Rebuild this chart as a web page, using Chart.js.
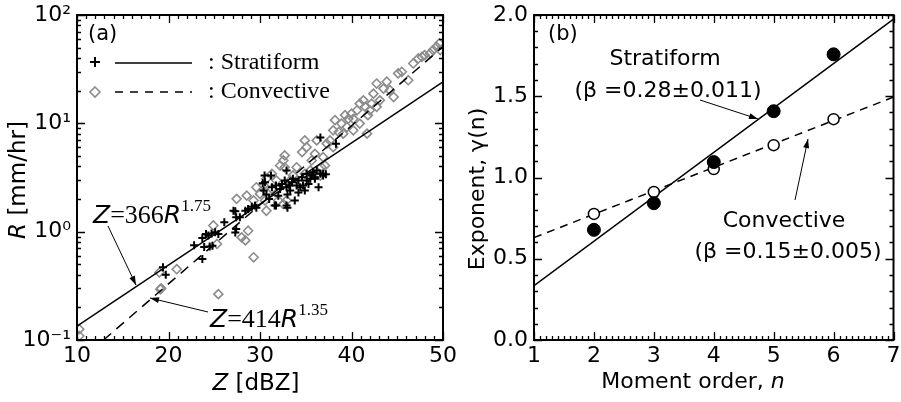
<!DOCTYPE html>
<html>
<head>
<meta charset="utf-8">
<script src="https://cdn.jsdelivr.net/npm/chart.js@4.4.1/dist/chart.umd.min.js"></script>
<style>
html, body { margin: 0; padding: 0; background: #fff; }
#wrap { position: relative; width: 901px; height: 402px; overflow: hidden; }
canvas { position: absolute; top: 0; }
#chartA { left: 0; }
#chartB { left: 450px; }
</style>
</head>
<body>
<div id="wrap">
  <canvas id="chartA" width="460" height="402"></canvas>
  <canvas id="chartB" width="451" height="402"></canvas>
</div>
<script>
// ---- panel (a): R vs Z ----
const zTicks = [10, 20, 30, 40, 50];
const rTicks = [0.1, 1, 10, 100];
const rTickLabels = ["10⁻¹", "10⁰", "10¹", "10²"];

const stratZ = [19.4, 19.7, 22.8, 23.7, 23.9, 23.7, 24.1, 24.35, 24.7, 25.1, 25.45, 24.5, 24.8, 26.1, 27.3, 27.4, 27.4, 27.8, 28.4, 28.7,
    29.1, 29.45, 29.6, 30.55, 30.4, 30.7, 31.2, 31.3, 31.75, 31.75, 32.0, 32.2, 32.4, 32.7, 32.9, 33.0, 33.2, 33.3, 33.5, 33.6,
    33.8, 34.0, 34.2, 34.4, 34.6, 34.7, 34.9, 35.1, 35.3, 35.5, 35.65, 35.8, 36.0, 36.2, 36.4, 36.6, 36.9, 37.2, 38.3, 36.6,
    32.9, 30.3, 30.5, 27.1, 27.3, 31.6, 32.9, 35.1, 36.9, 36.0, 33.0, 34.2, 31.0];
const stratR = [0.47, 0.40, 0.75, 0.875, 0.72, 0.56, 0.95, 0.92, 0.96, 0.99, 0.95, 0.73, 0.74, 1.22, 1.54, 1.36, 1.06, 1.36, 1.56, 1.62,
    1.70, 1.74, 1.66, 2.86, 2.40, 2.20, 3.30, 2.57, 2.67, 1.74, 2.15, 2.48, 2.76, 2.97, 2.57, 1.66, 2.67, 2.40, 2.86, 3.08,
    1.94, 2.67, 2.97, 2.57, 3.18, 2.67, 2.40, 3.42, 2.76, 3.08, 3.30, 3.54, 3.18, 3.67, 2.57, 3.42, 3.30, 3.38, 6.49, 7.41,
    3.67, 2.80, 3.30, 1.56, 0.98, 1.74, 1.74, 2.97, 3.42, 3.08, 2.20, 2.30, 2.00];

const convZ = [10.25, 10.25, 19.0, 19.1, 19.2, 20.9, 25.45, 25.3, 24.9, 28.0, 28.7, 28.4, 29.3, 27.45, 28.55, 29.6, 30.0, 30.55, 30.7, 29.3,
    31.3, 32.55, 32.7, 32.2, 32.7, 32.55, 32.9, 33.6, 34.0, 34.6, 35.1, 35.65, 36.0, 36.6, 36.7, 37.1, 37.3, 37.65, 38.0, 38.2,
    38.6, 38.9, 39.1, 39.5, 39.65, 40.0, 40.2, 40.6, 40.9, 41.3, 41.5, 41.7, 41.8, 42.2, 42.4, 42.75, 43.1, 43.5, 43.85, 44.2,
    44.6, 45.1, 45.5, 46.2, 46.75, 47.3, 47.7, 48.0, 48.6, 48.9, 49.3, 49.6, 49.7, 36.2, 34.9, 38.0, 39.3, 40.2, 40.9, 42.0,
    42.75, 30.7, 31.8, 33.3, 35.5, 34.9, 36.9, 31.3, 32.0, 30.4];
const convR = [0.126, 0.109, 0.42, 0.294, 0.30, 0.45, 0.265, 0.77, 1.14, 0.885, 1.02, 0.83, 0.58, 2.01, 2.15, 2.57, 2.23, 1.94, 1.56, 1.94,
    3.42, 4.54, 5.06, 4.08, 3.93, 1.80, 1.94, 3.30, 3.93, 5.43, 6.03, 4.54, 5.23, 3.30, 3.93, 4.08, 6.49, 6.96, 8.62, 10.7,
    8.31, 9.94, 8.03, 9.25, 11.0, 12.3, 8.62, 13.2, 9.94, 16.3, 14.2, 8.03, 11.9, 15.2, 18.8, 23.3, 16.3, 20.9, 24.2, 20.2,
    17.5, 28.9, 29.9, 25.0, 35.7, 39.7, 41.1, 42.6, 44.2, 47.4, 50.8, 54.7, 47.4, 6.96, 6.96, 6.03, 11.9, 11.0, 15.2, 13.2,
    14.2, 3.08, 2.97, 2.97, 3.67, 3.42, 4.87, 2.48, 1.94, 2.67];

// fitted lines (end points)
const stratFitZ = [10, 50];
const stratFitR = [0.134, 24.1];
const convFitZ = [12.9, 50];
const convFitR = [0.1, 51];

// ---- panel (b): exponent vs moment order ----
const nTicks = [1, 2, 3, 4, 5, 6, 7];
const moments = [2, 3, 4, 5, 6];
const gammaStrat = [0.678, 0.842, 1.095, 1.408, 1.758];
const gammaConv = [0.776, 0.911, 1.052, 1.199, 1.359];
const stratFitN = [1, 7];
const stratFitG = [0.335, 1.975];
const convFitN = [1, 7];
const convFitG = [0.63, 1.495];

const SANS = '"DejaVu Sans", Verdana, sans-serif';
const SERIF = '"Liberation Serif", "Times New Roman", serif';
const GREY = "#8c8c8c";

function pts(xs, ys) {
    return xs.map((x, i) => ({ x: x, y: ys[i] }));
}

function drawParts(ctx, x, y, parts, align) {
    let w = 0;
    parts.forEach(p => { ctx.font = p.font; w += ctx.measureText(p.t).width; });
    let cx = align === "center" ? x - w / 2 : x;
    parts.forEach(p => {
        ctx.font = p.font;
        ctx.fillText(p.t, cx, y + (p.dy || 0));
        cx += ctx.measureText(p.t).width;
    });
}

function arrow(ctx, x1, y1, x2, y2) {
    const a = Math.atan2(y2 - y1, x2 - x1);
    ctx.beginPath();
    ctx.moveTo(x1, y1);
    ctx.lineTo(x2, y2);
    ctx.stroke();
    ctx.beginPath();
    ctx.moveTo(x2, y2);
    ctx.lineTo(x2 - 9 * Math.cos(a) + 3 * Math.sin(a), y2 - 9 * Math.sin(a) - 3 * Math.cos(a));
    ctx.lineTo(x2 - 9 * Math.cos(a) - 3 * Math.sin(a), y2 - 9 * Math.sin(a) + 3 * Math.cos(a));
    ctx.closePath();
    ctx.fill();
}

function linTicks(min, max, step, majorStep) {
    const out = [];
    const n = Math.round((max - min) / step);
    for (let i = 0; i <= n; i++) {
        const v = min + i * step;
        const r = v / majorStep;
        out.push({ v: v, major: Math.abs(r - Math.round(r)) < 1e-6 });
    }
    return out;
}

function logTicks(minExp, maxExp) {
    const out = [];
    for (let e = minExp; e < maxExp; e++) {
        for (let m = 1; m < 10; m++) out.push({ v: m * Math.pow(10, e), major: m === 1 });
    }
    out.push({ v: Math.pow(10, maxExp), major: true });
    return out;
}

// box around the plot with inward ticks on all four sides
function makeFrame(xTicks, yTicks) {
    return {
        id: "frame",
        afterDatasetsDraw(chart) {
            const { ctx, chartArea: a } = chart;
            const x = chart.scales.x, y = chart.scales.y;
            ctx.save();
            ctx.strokeStyle = "#000";
            ctx.lineWidth = 1.3;
            ctx.beginPath();
            xTicks.forEach(t => {
                const px = Math.round(x.getPixelForValue(t.v)) + 0.5;
                const len = t.major ? 8 : 4;
                ctx.moveTo(px, a.bottom); ctx.lineTo(px, a.bottom - len);
                ctx.moveTo(px, a.top); ctx.lineTo(px, a.top + len);
            });
            yTicks.forEach(t => {
                const py = Math.round(y.getPixelForValue(t.v)) + 0.5;
                const len = t.major ? 8 : 4;
                ctx.moveTo(a.left, py); ctx.lineTo(a.left + len, py);
                ctx.moveTo(a.right, py); ctx.lineTo(a.right - len, py);
            });
            ctx.stroke();
            ctx.lineWidth = 2;
            ctx.strokeRect(a.left, a.top, a.right - a.left, a.bottom - a.top);
            ctx.restore();
        }
    };
}

function makeTexts(draw) {
    return {
        id: "texts",
        afterDraw(chart) {
            const ctx = chart.ctx;
            ctx.save();
            ctx.fillStyle = "#000";
            ctx.strokeStyle = "#000";
            ctx.textBaseline = "alphabetic";
            ctx.lineWidth = 1;
            draw(ctx);
            ctx.restore();
        }
    };
}

function axisX(min, max, tickValues) {
    return {
        type: "linear", min: min, max: max,
        grid: { display: false, drawTicks: false }, border: { display: false },
        afterBuildTicks(s) { s.ticks = tickValues.map(v => ({ value: v })); },
        ticks: { color: "#000", font: { family: SANS, size: 22 }, padding: 3, maxRotation: 0, autoSkip: false },
        afterFit(s) { s.height = 62; s.paddingLeft = 0; s.paddingRight = 0; }
    };
}

// ---------- chart (a) ----------
new Chart(document.getElementById("chartA"), {
    type: "scatter",
    data: {
        datasets: [
            {
                label: "Stratiform", data: pts(stratZ, stratR),
                pointStyle: "cross", pointRadius: 4, borderColor: "#000", borderWidth: 2
            },
            {
                label: "Stratiform fit", data: pts(stratFitZ, stratFitR), showLine: true,
                pointRadius: 0, borderColor: "#000", borderWidth: 1.5
            },
            {
                label: "Convective fit", data: pts(convFitZ, convFitR), showLine: true,
                pointRadius: 0, borderColor: "#000", borderWidth: 1.5, borderDash: [10, 7]
            },
            {
                label: "Convective", data: pts(convZ, convR),
                pointStyle: "rectRot", pointRadius: 4.5, borderColor: GREY, borderWidth: 1.6,
                backgroundColor: "rgba(0,0,0,0)"
            }
        ]
    },
    options: {
        responsive: false, animation: false, events: [],
        layout: { padding: { top: 15, right: 17, left: 0, bottom: 0 } },
        scales: {
            x: axisX(10, 50, zTicks),
            y: {
                type: "logarithmic", min: 0.1, max: 100,
                grid: { display: false, drawTicks: false }, border: { display: false },
                afterBuildTicks(s) { s.ticks = rTicks.map(v => ({ value: v })); },
                ticks: {
                    color: "#000", font: { family: SANS, size: 22 }, padding: 6, autoSkip: false,
                    callback: (v, i) => rTickLabels[i]
                },
                afterFit(s) { s.width = 77; s.paddingTop = 0; s.paddingBottom = 0; }
            }
        },
        plugins: { legend: { display: false }, tooltip: { enabled: false } }
    },
    plugins: [
        makeFrame(linTicks(10, 50, 1, 10), logTicks(-1, 2)),
        makeTexts(ctx => {
            ctx.font = "21px " + SANS;
            ctx.fillText("(a)", 88, 40);
            // legend
            ctx.lineWidth = 2;
            ctx.beginPath();
            ctx.moveTo(90, 62); ctx.lineTo(100, 62);
            ctx.moveTo(95, 57); ctx.lineTo(95, 67);
            ctx.stroke();
            ctx.lineWidth = 1.5;
            ctx.beginPath();
            ctx.moveTo(115, 63); ctx.lineTo(192, 63);
            ctx.stroke();
            ctx.strokeStyle = GREY;
            ctx.lineWidth = 1.6;
            ctx.beginPath();
            ctx.moveTo(95, 87); ctx.lineTo(100, 92); ctx.lineTo(95, 97); ctx.lineTo(90, 92); ctx.closePath();
            ctx.stroke();
            ctx.strokeStyle = "#000";
            ctx.lineWidth = 1.5;
            ctx.setLineDash([8, 7]);
            ctx.beginPath();
            ctx.moveTo(115, 92); ctx.lineTo(192, 92);
            ctx.stroke();
            ctx.setLineDash([]);
            ctx.font = "24px " + SERIF;
            ctx.fillText(": Stratiform", 208, 69);
            ctx.fillText(": Convective", 208, 98);
            // relation labels
            const big = "26px " + SERIF, sup = "17px " + SERIF, it = "italic 25px " + SANS;
            drawParts(ctx, 93, 223, [
                { t: "Z", font: it }, { t: "=366", font: big }, { t: "R", font: it }, { t: "1.75", font: sup, dy: -12 }
            ]);
            drawParts(ctx, 210, 327, [
                { t: "Z", font: it }, { t: "=414", font: big }, { t: "R", font: it }, { t: "1.35", font: sup, dy: -12 }
            ]);
            ctx.lineWidth = 1;
            arrow(ctx, 108, 226, 136, 285);
            arrow(ctx, 208, 312, 150, 298);
            // axis titles
            drawParts(ctx, 256, 390, [
                { t: "Z", font: "italic 23px " + SANS }, { t: " [dBZ]", font: "23px " + SANS }
            ], "center");
            ctx.save();
            ctx.translate(25, 180);
            ctx.rotate(-Math.PI / 2);
            drawParts(ctx, 0, 0, [
                { t: "R", font: "italic 23px " + SANS }, { t: " [mm/hr]", font: "23px " + SANS }
            ], "center");
            ctx.restore();
        })
    ]
});

// ---------- chart (b) ----------
new Chart(document.getElementById("chartB"), {
    type: "scatter",
    data: {
        datasets: [
            {
                label: "Stratiform", data: pts(moments, gammaStrat),
                pointStyle: "circle", pointRadius: 6.5, backgroundColor: "#000", borderColor: "#000", borderWidth: 1
            },
            {
                label: "Convective", data: pts(moments, gammaConv),
                pointStyle: "circle", pointRadius: 5.5, backgroundColor: "#fff", borderColor: "#000", borderWidth: 1.5
            },
            {
                label: "Stratiform fit", data: pts(stratFitN, stratFitG), showLine: true,
                pointRadius: 0, borderColor: "#000", borderWidth: 1.5
            },
            {
                label: "Convective fit", data: pts(convFitN, convFitG), showLine: true,
                pointRadius: 0, borderColor: "#000", borderWidth: 1.5, borderDash: [8, 6]
            }
        ]
    },
    options: {
        responsive: false, animation: false, events: [],
        layout: { padding: { top: 15, right: 1, left: 0, bottom: 0 } },
        scales: {
            x: axisX(1, 7, nTicks),
            y: {
                type: "linear", min: 0, max: 2,
                grid: { display: false, drawTicks: false }, border: { display: false },
                ticks: {
                    stepSize: 0.5, color: "#000", font: { family: SANS, size: 22 }, padding: 6,
                    callback: v => v.toFixed(1)
                },
                afterFit(s) { s.width = 84; s.paddingTop = 0; s.paddingBottom = 0; }
            }
        },
        plugins: { legend: { display: false }, tooltip: { enabled: false } }
    },
    plugins: [
        makeFrame(linTicks(1, 7, 0.1, 1), linTicks(0, 2, 0.1, 0.5)),
        makeTexts(ctx => {
            const f = "22px " + SANS;
            ctx.font = "21px " + SANS;
            ctx.fillText("(b)", 98, 40);
            ctx.font = f;
            ctx.textAlign = "center";
            ctx.fillText("Stratiform", 215, 65);
            ctx.fillText("(β =0.28±0.011)", 218, 97);
            ctx.fillText("Convective", 334, 227);
            ctx.fillText("(β =0.15±0.005)", 338, 258);
            ctx.textAlign = "left";
            arrow(ctx, 250, 100, 308, 119);
            arrow(ctx, 345, 200, 358, 139);
            drawParts(ctx, 243, 388, [
                { t: "Moment order, ", font: f }, { t: "n", font: "italic 22px " + SANS }
            ], "center");
            ctx.save();
            ctx.translate(34, 189);
            ctx.rotate(-Math.PI / 2);
            drawParts(ctx, 0, 0, [{ t: "Exponent, γ(n)", font: f }], "center");
            ctx.restore();
        })
    ]
});
</script>
</body>
</html>
